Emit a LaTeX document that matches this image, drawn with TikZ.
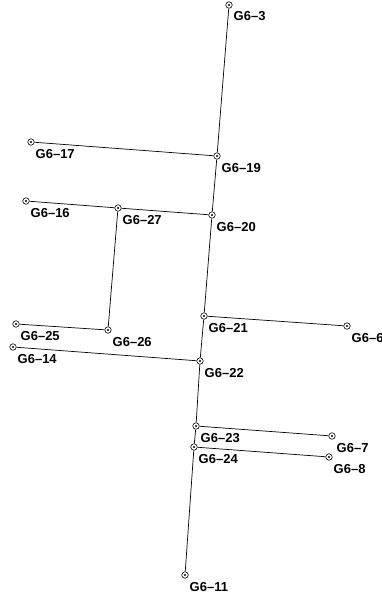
\documentclass[tikz,border=0pt]{standalone}
\usepackage{fontspec}
\setmainfont{Liberation Sans}
\begin{document}
\begin{tikzpicture}[x=1pt,y=-1pt,
  pt/.style={circle,draw,line width=0.6pt,inner sep=0pt,minimum size=6.5pt,fill=white,
    path picture={\fill[black] (path picture bounding box.center) circle (1.1pt);}},
  lab/.style={anchor=base west,inner sep=0pt,font=\bfseries\fontsize{13}{13}\selectfont},
  ln/.style={line width=0.7pt}]
\useasboundingbox (0,0) rectangle (382,599);
\foreach \n/\x/\y in {3/229/5,19/217/156,17/31/142,20/212/215,16/26/201,27/118/208,
  25/16/324,26/108/330,21/204/316,6/347/326,14/13/347,22/200/361,23/196/426,
  7/332/436,24/194/447,8/329/457,11/185/575}{
  \node[pt] (g\n) at (\x,\y) {};
  \node[lab] (l\n) at (\x+4.5,\y+16) {G6–\n};
}
\draw[ln] (g3) -- (g19);
\draw[ln] (g19) -- (g20);
\draw[ln] (g20) -- (g21);
\draw[ln] (g21) -- (g22);
\draw[ln] (g22) -- (g23);
\draw[ln] (g23) -- (g24);
\draw[ln] (g24) -- (g11);
\draw[ln] (g17) -- (g19);
\draw[ln] (g16) -- (g27);
\draw[ln] (g27) -- (g20);
\draw[ln] (g27) -- (g26);
\draw[ln] (g25) -- (g26);
\draw[ln] (g21) -- (g6);
\draw[ln] (g14) -- (g22);
\draw[ln] (g23) -- (g7);
\draw[ln] (g24) -- (g8);
\end{tikzpicture}
\end{document}
